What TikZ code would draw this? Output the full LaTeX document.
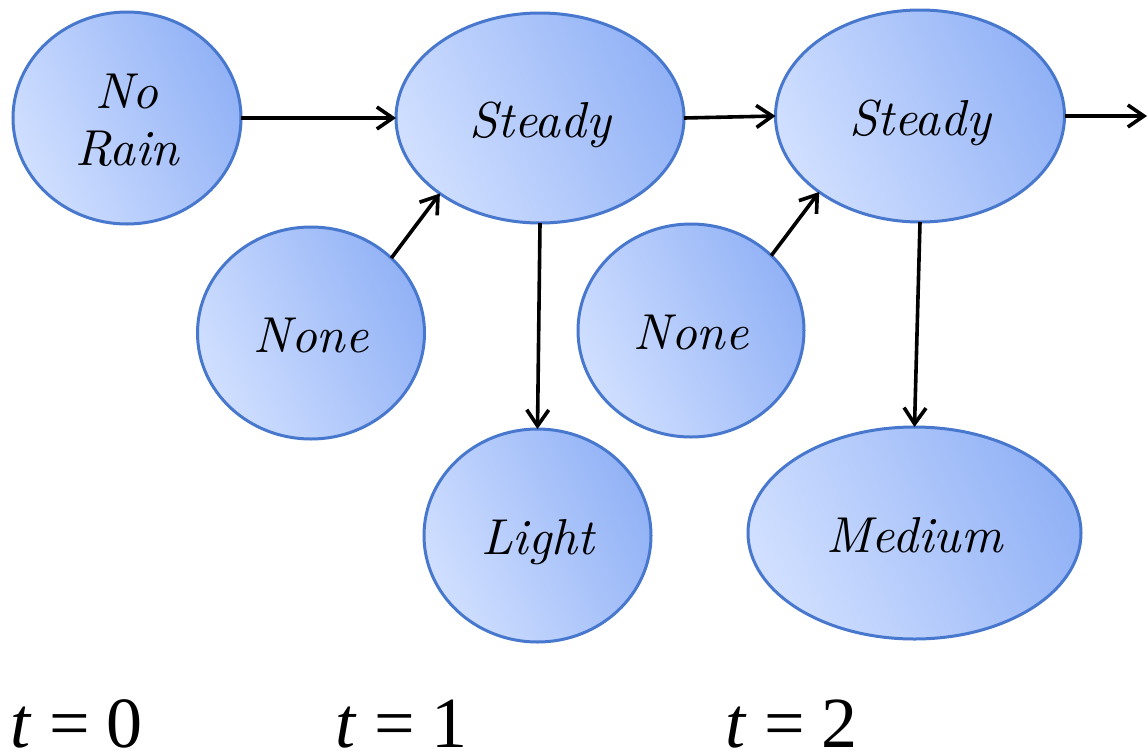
\documentclass[tikz,border=0pt]{standalone}
\usepackage{fontspec}
\newfontfamily\timeslabelfont{Liberation Serif}
\newfontfamily\lmtenit{lmroman10-italic.otf}
\usetikzlibrary{shapes.geometric,arrows.meta}
\definecolor{nlight}{RGB}{208,223,255}
\definecolor{ndark}{RGB}{146,178,246}
\definecolor{nborder}{RGB}{72,120,206}
\begin{document}
\begin{tikzpicture}[x=1pt,y=-1pt,
  state/.style={ellipse, draw=nborder, line width=3pt, inner sep=0pt, outer sep=0pt,
    top color=nlight, bottom color=ndark, shading angle=115,
    font=\lmtenit\fontsize{50.5pt}{57.4pt}\selectfont, text height=38pt, text depth=0pt},
  link/.style={line width=3.6pt, -{Straight Barb[length=16pt,width=22pt]}},
  tlabel/.style={anchor=base west, inner sep=0pt}
]
\useasboundingbox (0,0) rectangle (1148,753);

\node[state, minimum width=228pt, minimum height=212pt, text height=30pt, text depth=49.4pt] (nr) at (127,118)
  {\begin{tabular}[t]{@{}c@{}}No\\Rain\end{tabular}};
\node[state, minimum width=288pt, minimum height=210pt] (s1) at (540,118) {Steady};
\node[state, minimum width=289pt, minimum height=212pt] (s2) at (920,116) {Steady};
\node[state, minimum width=227pt, minimum height=212pt] (n1) at (311,333) {None};
\node[state, minimum width=226pt, minimum height=213pt] (n2) at (691,330.5) {None};
\node[state, minimum width=227pt, minimum height=213pt] (l1) at (537.5,535.5) {Light};
\node[state, minimum width=333pt, minimum height=212pt] (m2) at (914.5,533) {Medium};
\coordinate (out) at (1147,116);

\draw[link] (nr.east) -- (s1.west);
\draw[link] (s1.east) -- (s2.west);
\draw[link] (s2.east) -- (out);
\draw[link] (n1.43) -- (s1.217);
\draw[link] (n2.43) -- (s2.217);
\draw[link] (s1.south) -- (l1.north);
\draw[link] (s2.south) -- (m2.north);

\node[tlabel] (t0) at (10,747) {\timeslabelfont\fontsize{72pt}{80pt}\selectfont\itshape t\upshape\hspace{0.27em}=\hspace{0.22em}0};
\node[tlabel] (t1) at (335,747) {\timeslabelfont\fontsize{72pt}{80pt}\selectfont\itshape t\upshape\hspace{0.27em}=\hspace{0.22em}1};
\node[tlabel] (t2) at (725,747) {\timeslabelfont\fontsize{72pt}{80pt}\selectfont\itshape t\upshape\hspace{0.27em}=\hspace{0.22em}2};
\end{tikzpicture}
\end{document}
